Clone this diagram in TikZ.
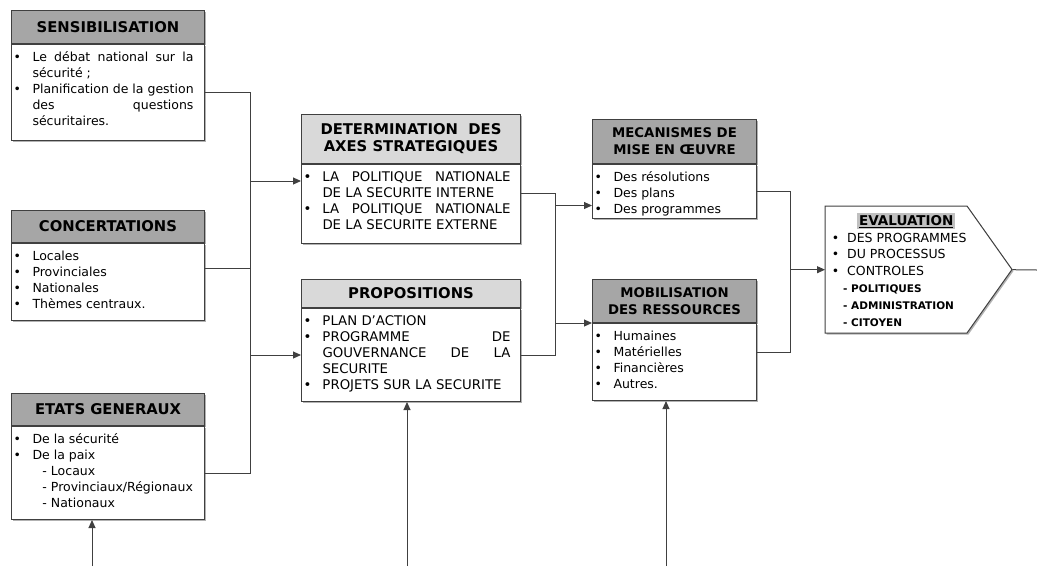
\documentclass[tikz,border=0pt]{standalone}
\usepackage{fontspec}
\setmainfont{DejaVu Sans}
\usetikzlibrary{arrows.meta,shadows}

\definecolor{hddark}{RGB}{166,166,166}
\definecolor{hdlight}{RGB}{217,217,217}
\definecolor{lncol}{RGB}{64,64,64}
\definecolor{hlcol}{RGB}{192,192,192}

\newcommand{\bodysz}{\fontsize{12.5}{16}\selectfont}
\newcommand{\capsz}{\fontsize{13.3}{16}\selectfont}
\newcommand{\bl}[1][19pt]{\strut\makebox[#1][l]{\textbullet}}
\newcommand{\ind}[1][19pt]{\strut\hspace*{#1}}
\newcommand{\bodybox}[3]{\makebox[#1][l]{\hspace*{2pt}\parbox[t][#2][t]{\dimexpr#1-4pt\relax}{\bodysz #3}}}

\tikzset{
  ln/.style={draw=lncol, line width=1pt},
  arr/.style={ln, -{Triangle[length=8pt,width=7pt]}},
  boxshade/.style={drop shadow={shadow xshift=1.5pt,shadow yshift=-1.5pt,opacity=0.3,fill=black}},
  hd/.style={draw=lncol, line width=1pt, anchor=north west, inner sep=0pt, align=center,
    font=\fontsize{14.8}{17}\selectfont\bfseries, boxshade},
  hdsmall/.style={hd, font=\fontsize{13.3}{17}\selectfont\bfseries},
  bd/.style={draw=lncol, line width=1pt, fill=white, anchor=north west, inner xsep=0pt, inner ysep=6pt, boxshade},
}

\begin{document}
\begin{tikzpicture}[x=1pt,y=-1pt]
\useasboundingbox (0,0) rectangle (1037,566);

% left column
\node[hd, fill=hddark, minimum width=193pt, minimum height=33pt] (sensT) at (11,10) {SENSIBILISATION};
\node[bd] (sensB) at (sensT.south west) {\bodybox{193pt}{84pt}{
  \bl\makebox[161pt][s]{Le débat national sur la}\par
  \ind sécurité ;\par
  \bl Planification de la gestion\par
  \ind\makebox[161pt][s]{des questions}\par
  \ind sécuritaires.}};

\node[hd, fill=hddark, minimum width=193pt, minimum height=32pt] (concT) at (11,210) {CONCERTATIONS};
\node[bd] (concB) at (concT.south west) {\bodybox{193pt}{65pt}{
  \bl Locales\par
  \bl Provinciales\par
  \bl Nationales\par
  \bl Thèmes centraux.}};

\node[hd, fill=hddark, minimum width=193pt, minimum height=32pt] (etatT) at (11,393) {ETATS GENERAUX};
\node[bd] (etatB) at (etatT.south west) {\bodybox{193pt}{81pt}{
  \bl De la sécurité\par
  \bl De la paix\par
  \ind[29pt]- Locaux\par
  \ind[29pt]- Provinciaux/Régionaux\par
  \ind[29pt]- Nationaux}};

% middle column
\node[hd, fill=hdlight, minimum width=219pt, minimum height=49pt] (detT) at (301,114)
  {\makebox[181pt][s]{DETERMINATION DES}\\AXES STRATEGIQUES};
\node[bd] (detB) at (detT.south west) {\bodybox{219pt}{67pt}{\capsz
  \bl\makebox[188pt][s]{LA POLITIQUE NATIONALE}\par
  \ind DE LA SECURITE INTERNE\par
  \bl\makebox[188pt][s]{LA POLITIQUE NATIONALE}\par
  \ind DE LA SECURITE EXTERNE}};

\node[hd, fill=hdlight, minimum width=219pt, minimum height=28pt] (propT) at (301,279) {PROPOSITIONS};
\node[bd] (propB) at (propT.south west) {\bodybox{219pt}{81pt}{\capsz
  \bl PLAN D’ACTION\par
  \bl\makebox[188pt][s]{PROGRAMME DE}\par
  \ind\makebox[188pt][s]{GOUVERNANCE DE LA}\par
  \ind SECURITE\par
  \bl PROJETS SUR LA SECURITE}};

% right column
\node[hdsmall, fill=hddark, minimum width=164pt, minimum height=44pt] (mecT) at (592,119) {MECANISMES DE\\MISE EN ŒUVRE};
\node[bd] (mecB) at (mecT.south west) {\bodybox{164pt}{42pt}{
  \bl Des résolutions\par
  \bl Des plans\par
  \bl Des programmes}};

\node[hdsmall, fill=hddark, minimum width=164pt, minimum height=43pt] (mobT) at (592,279) {MOBILISATION\\DES RESSOURCES};
\node[bd] (mobB) at (mobT.south west) {\bodybox{164pt}{65pt}{
  \bl Humaines\par
  \bl Matérielles\par
  \bl Financières\par
  \bl Autres.}};

% evaluation
\coordinate (evnw) at (825,206);
\draw[ln, fill=white, boxshade] (evnw) -- ++(142,0) -- ++(45,63.5) -- ++(-45,63.5) -- ++(-142,0) -- cycle;
\node[anchor=north west, inner sep=0pt] (ev) at (evnw) {\parbox[t][127pt][t]{142pt}{\fontsize{12.5}{16.8}\selectfont
  \rule{0pt}{19pt}\hspace*{32pt}{\fontsize{13.5}{16.8}\selectfont\bfseries\setlength{\fboxsep}{2pt}\colorbox{hlcol}{\underline{EVALUATION}}}\par
  \hspace*{6.6pt}\bl[15.4pt]DES PROGRAMMES\par
  \hspace*{6.6pt}\bl[15.4pt]DU PROCESSUS\par
  \hspace*{6.6pt}\bl[15.4pt]CONTROLES\par
  \strut\hspace*{18pt}{\fontsize{10.5}{16.8}\selectfont\bfseries - POLITIQUES}\par
  \strut\hspace*{18pt}{\fontsize{10.5}{16.8}\selectfont\bfseries - ADMINISTRATION}\par
  \strut\hspace*{18pt}{\fontsize{10.5}{16.8}\selectfont\bfseries - CITOYEN}}};
\coordinate (evtip) at ([xshift=45pt]ev.east);
\coordinate (evout) at (1037,270);

% connectors
\coordinate (busA) at (250,0);
\coordinate (busB) at (555,0);
\coordinate (busC) at (790,0);
\coordinate (concOut) at ([yshift=14pt]concB.east);
\coordinate (detIn) at ([yshift=23pt]detB.west);
\coordinate (detOut) at ([yshift=11pt]detB.east);
\coordinate (mecIn) at ([yshift=-14pt]mecB.west);
\coordinate (mobOut) at ([yshift=10pt]mobB.east);

\draw[ln] (sensB.east) -| (busA |- etatB.east) -- (etatB.east);
\draw[ln] (concOut) -- (busA |- concOut);
\draw[arr] (busA |- detIn) -- (detIn);
\draw[arr] (busA |- propB.west) -- (propB.west);

\draw[ln] (detOut) -| (busB |- propB.east) -- (propB.east);
\draw[arr] (busB |- mecIn) -- (mecIn);
\draw[arr] (busB |- mobT.south west) -- (mobT.south west);

\draw[ln] (mecB.east) -| (busC |- mobOut) -- (mobOut);
\draw[arr] (busC |- ev.west) -- (ev.west);
\draw[ln] (evtip) -- (evout);

\coordinate (inEtat) at (92,566);
\coordinate (inProp) at (407,566);
\coordinate (inMob) at (666,566);
\draw[arr] (inEtat) -- (inEtat |- etatB.south);
\draw[arr] (inProp) -- (inProp |- propB.south);
\draw[arr] (inMob) -- (inMob |- mobB.south);
\end{tikzpicture}
\end{document}
